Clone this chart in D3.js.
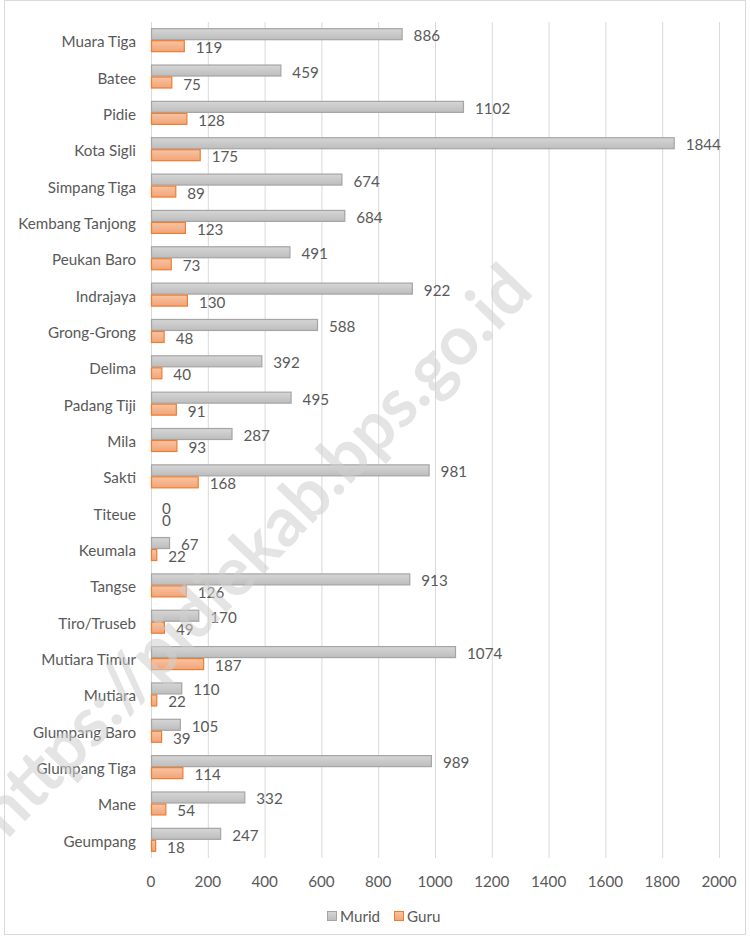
<!DOCTYPE html>
<html>
<head>
<meta charset="utf-8">
<script src="https://cdn.jsdelivr.net/npm/d3@7/dist/d3.min.js"></script>
<style>
  html, body { margin: 0; padding: 0; background: #fff; }
  svg { display: block; font-family: Lato, "Open Sans", sans-serif; }
</style>
</head>
<body>
<svg id="chart" width="750" height="939"></svg>
<script>
// ---- data ----
const kecamatan = ['Muara Tiga', 'Batee', 'Pidie', 'Kota Sigli', 'Simpang Tiga', 'Kembang Tanjong',
  'Peukan Baro', 'Indrajaya', 'Grong-Grong', 'Delima', 'Padang Tiji', 'Mila', 'Sakti', 'Titeue',
  'Keumala', 'Tangse', 'Tiro/Truseb', 'Mutiara Timur', 'Mutiara', 'Glumpang Baro', 'Glumpang Tiga',
  'Mane', 'Geumpang'];
const murid = [886, 459, 1102, 1844, 674, 684, 491, 922, 588, 392, 495, 287, 981, 0, 67, 913, 170, 1074, 110, 105, 989, 332, 247];
const guru  = [119, 75, 128, 175, 89, 123, 73, 130, 48, 40, 91, 93, 168, 0, 22, 126, 49, 187, 22, 39, 114, 54, 18];
const seriesNames = ['Murid', 'Guru'];
const xTicks = [0, 200, 400, 600, 800, 1000, 1200, 1400, 1600, 1800, 2000];

// ---- layout ----
const W = 750, H = 939;
const plot = { left: 151, right: 719, top: 22, bottom: 858 };
const TEXT = '#595959';
const GRID = '#d9d9d9';
const FONT = 15.2;

const svg = d3.select('#chart');

// gradients (Excel-like shaded bars)
const defs = svg.append('defs');
function grad(id, c1, c2) {
  const g = defs.append('linearGradient').attr('id', id)
    .attr('x1', 0).attr('y1', 0).attr('x2', 0).attr('y2', 1);
  g.append('stop').attr('offset', '0%').attr('stop-color', c1);
  g.append('stop').attr('offset', '100%').attr('stop-color', c2);
}
grad('gMurid', '#d6d6d6', '#bdbdbd');
grad('gGuru', '#f8c4a2', '#f2a477');
const fills = { Murid: 'url(#gMurid)', Guru: 'url(#gGuru)' };
const strokes = { Murid: '#a5a5a5', Guru: '#ed7d31' };

// outer frame
svg.append('rect')
  .attr('x', 4.5).attr('y', 0.5).attr('width', W - 9).attr('height', H - 5)
  .attr('fill', 'none').attr('stroke', '#d9d9d9');

const x = d3.scaleLinear().domain([0, 2000]).range([plot.left, plot.right]);
const y = d3.scaleBand().domain(kecamatan).range([plot.top, plot.bottom])
  .paddingInner(0.34).paddingOuter(0.17);
const sub = d3.scaleBand().domain(seriesNames).range([0, y.bandwidth()]);

// gridlines
svg.append('g')
  .selectAll('line')
  .data(xTicks)
  .join('line')
  .attr('x1', d => x(d) + 0.5).attr('x2', d => x(d) + 0.5)
  .attr('y1', plot.top).attr('y2', plot.bottom)
  .attr('stroke', GRID).attr('stroke-width', 1);

// bars
const rows = kecamatan.map((k, i) => ({ k, vals: [
  { s: 'Murid', v: murid[i] },
  { s: 'Guru', v: guru[i] }
] }));

const groups = svg.append('g')
  .selectAll('g.row')
  .data(rows)
  .join('g')
  .attr('class', 'row')
  .attr('transform', d => `translate(0,${y(d.k)})`);

groups.selectAll('rect')
  .data(d => d.vals.filter(p => p.v > 0))
  .join('rect')
  .attr('x', x(0) + 0.5)
  .attr('y', d => sub(d.s) + 0.5)
  .attr('width', d => Math.max(0, x(d.v) - x(0) - 1))
  .attr('height', sub.bandwidth() - 1)
  .attr('fill', d => fills[d.s])
  .attr('stroke', d => strokes[d.s])
  .attr('stroke-width', 1.2);

groups.selectAll('text.val')
  .data(d => d.vals)
  .join('text')
  .attr('class', 'val')
  .attr('x', d => x(d.v) + 11)
  .attr('y', d => sub(d.s) + sub.bandwidth() / 2 + 1)
  .attr('dominant-baseline', 'central')
  .attr('font-size', FONT)
  .attr('fill', TEXT)
  .text(d => d.v);

// category labels
svg.append('g')
  .selectAll('text')
  .data(kecamatan)
  .join('text')
  .attr('x', 136)
  .attr('y', d => y(d) + y.bandwidth() / 2 + 1)
  .attr('text-anchor', 'end')
  .attr('dominant-baseline', 'central')
  .attr('font-size', FONT)
  .attr('fill', TEXT)
  .text(d => d);

// x tick labels
svg.append('g')
  .selectAll('text')
  .data(xTicks)
  .join('text')
  .attr('x', d => x(d))
  .attr('y', 881)
  .attr('text-anchor', 'middle')
  .attr('dominant-baseline', 'central')
  .attr('font-size', FONT)
  .attr('fill', TEXT)
  .text(d => d);

// legend
const legend = svg.append('g').attr('transform', 'translate(327,916)');
const legendX = { Murid: 0, Guru: 67 };
seriesNames.forEach(s => {
  const g = legend.append('g').attr('transform', `translate(${legendX[s]},0)`);
  g.append('rect')
    .attr('x', 0.5).attr('y', -4.5).attr('width', 9).attr('height', 9)
    .attr('fill', fills[s]).attr('stroke', strokes[s]);
  g.append('text')
    .attr('x', 13).attr('y', 0)
    .attr('dominant-baseline', 'central')
    .attr('font-size', FONT)
    .attr('fill', TEXT)
    .text(s);
});

// watermark (on top, semi-transparent)
svg.append('text')
  .attr('transform', 'translate(252,548) rotate(-46)')
  .attr('text-anchor', 'middle')
  .attr('dominant-baseline', 'central')
  .attr('font-size', 68)
  .attr('font-weight', 'bold')
  .attr('fill', '#cfcfcf')
  .attr('opacity', 0.55)
  .style('pointer-events', 'none')
  .text('https://pidiekab.bps.go.id');
</script>
</body>
</html>
